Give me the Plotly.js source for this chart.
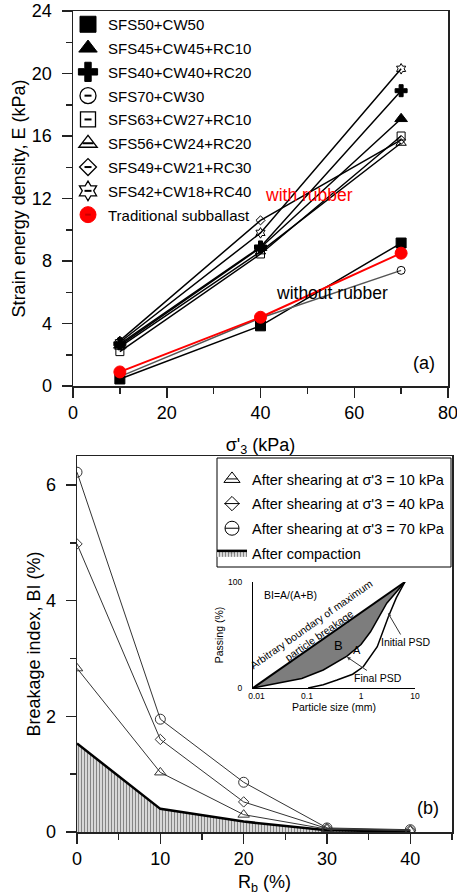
<!DOCTYPE html>
<html>
<head>
<meta charset="utf-8">
<script src="https://cdn.plot.ly/plotly-3.0.1.min.js"></script>
<style>html,body{margin:0;padding:0;background:#fff;overflow:hidden;}</style>
</head>
<body>
<div id="chart" style="width:457px;height:895px;"></div>
<script>
// ---------------- (a) strain energy density ----------------
const sigma3 = [10, 40, 70];
const E_SFS50_CW50      = [0.45, 3.85, 9.15];
const E_SFS45_CW45_RC10 = [2.6, 8.85, 17.1];
const E_SFS40_CW40_RC20 = [2.7, 8.9, 18.9];
const E_SFS70_CW30      = [0.6, 4.35, 7.4];
const E_SFS63_CW27_RC10 = [2.2, 8.45, 16.0];
const E_SFS56_CW24_RC20 = [2.5, 8.6, 15.55];
const E_SFS49_CW21_RC30 = [2.9, 10.6, 15.75];
const E_SFS42_CW18_RC40 = [2.8, 9.8, 20.3];
const E_traditional     = [0.9, 4.4, 8.5];
const namesA = ['SFS50+CW50', 'SFS45+CW45+RC10', 'SFS40+CW40+RC20', 'SFS70+CW30',
                'SFS63+CW27+RC10', 'SFS56+CW24+RC20', 'SFS49+CW21+RC30', 'SFS42+CW18+RC40',
                'Traditional subballast'];
const xTicksA = [0, 20, 40, 60, 80];
const yTicksA = [0, 4, 8, 12, 16, 20, 24];

// ---------------- (b) breakage index ----------------
const Rb = [0, 10, 20, 30, 40];
const BI_10kPa      = [2.83, 1.03, 0.30, 0.05, 0.02];
const BI_40kPa      = [4.98, 1.60, 0.52, 0.06, 0.03];
const BI_70kPa      = [6.22, 1.95, 0.86, 0.07, 0.04];
const BI_compaction = [1.53, 0.40, 0.18, 0.03, 0.01];
const namesB = ["After shearing at σ'3 = 10 kPa", "After shearing at σ'3 = 40 kPa",
                "After shearing at σ'3 = 70 kPa", 'After compaction'];
const xTicksB = [0, 10, 20, 30, 40];
const yTicksB = [0, 2, 4, 6];

// ---------------- inset (PSD sketch) ----------------
const psdBoundarySize = [0.01, 6.5];
const psdBoundaryPass = [0, 100];
const psdFinalSize    = [0.01, 0.08, 0.2, 0.55, 1.0, 1.5, 3.0, 6.5];
const psdFinalPass    = [0, 9, 17, 30, 41, 53, 80, 100];
const psdInitialSize  = [0.105, 0.2, 0.36, 0.7, 1.1, 2.0, 3.2, 4.5, 6.5];
const psdInitialPass  = [0, 3, 7.5, 13, 20, 39, 67, 85, 100];
const insetXTicks = [0.01, 0.1, 1, 10];
const insetXText  = ['\u00a0\u00a0\u00a00.01', '0.1', '1', '10'];
const insetYTicks = [0, 100];

// ---------------- helpers ----------------
const W = 457, H = 895;
const px = v => v / W, py = v => 1 - v / H;
const FONT = 'Liberation Sans, Arial, Helvetica, sans-serif';
const AX = '#222';

const seriesA = [E_SFS50_CW50, E_SFS45_CW45_RC10, E_SFS40_CW40_RC20, E_SFS70_CW30,
                 E_SFS63_CW27_RC10, E_SFS56_CW24_RC20, E_SFS49_CW21_RC30, E_SFS42_CW18_RC40,
                 E_traditional];
const styleA = [
  {sym: 'square',           size: 10, fill: '#000', lc: '#000', legSize: 16, dash: 0, line: '#000'},
  {sym: 'triangle-up',      size: 11, fill: '#000', lc: '#000', legSize: 16, dash: 0, line: '#000'},
  {sym: 'cross',            size: 10, fill: '#000', lc: '#000', legSize: 16, dash: 0, line: '#000'},
  {sym: 'circle-open',      size: 8,  fill: '#000', lc: '#000', legSize: 16, dash: 5, line: '#555'},
  {sym: 'square-open',      size: 8,  fill: '#000', lc: '#000', legSize: 15, dash: 5, line: '#000'},
  {sym: 'triangle-up-open', size: 9,  fill: '#000', lc: '#000', legSize: 16, dash: 8, line: '#000'},
  {sym: 'diamond-open',     size: 7,  fill: '#000', lc: '#000', legSize: 13, dash: 5, line: '#000'},
  {sym: 'hexagram-open',    size: 8,  fill: '#000', lc: '#000', legSize: 15, dash: 5, line: '#000'},
  {sym: 'circle',           size: 12, fill: '#ff0000', lc: '#ff0000', legSize: 16, dash: 0, line: '#ff0000'}
];

const traces = [];

// (a) data traces (red one last so it sits on top)
seriesA.forEach((ys, i) => {
  const s = styleA[i];
  traces.push({
    x: sigma3, y: ys, xaxis: 'x', yaxis: 'y', mode: 'lines+markers', showlegend: false,
    hoverinfo: 'skip',
    line: {color: s.line, width: i === 8 ? 2 : 1.5},
    marker: {symbol: s.sym, size: s.size, color: s.fill, line: {color: s.lc, width: 1}}
  });
});
// (a) legend entries (markers only)
seriesA.forEach((ys, i) => {
  const s = styleA[i];
  traces.push({
    x: [null], y: [null], xaxis: 'x', yaxis: 'y', mode: 'markers', name: namesA[i],
    legend: 'legend', legendgroup: 'a' + i, showlegend: true, hoverinfo: 'skip',
    marker: {symbol: s.sym, size: s.legSize, color: s.fill, line: {color: s.lc, width: i >= 3 && i <= 7 ? 1.3 : 1}}
  });
});
// (a) legend overlay: inner dash of the open symbols
seriesA.forEach((ys, i) => {
  const s = styleA[i];
  traces.push({
    x: [null], y: [null], xaxis: 'x', yaxis: 'y', mode: 'markers', name: namesA[i],
    legend: 'legend3', legendgroup: 'ao' + i, showlegend: true, hoverinfo: 'skip',
    marker: {symbol: 'line-ew', size: s.dash || 4, opacity: s.dash ? 1 : 0,
             color: '#000', line: {color: '#000', width: 2}}
  });
});

// (b) data
const seriesB = [BI_10kPa, BI_40kPa, BI_70kPa];
const styleB = [
  {sym: 'triangle-up-open', size: 10, legSize: 14, dash: 8},
  {sym: 'diamond-open',     size: 8,  legSize: 11, dash: 11},
  {sym: 'circle-open',      size: 10, legSize: 14, dash: 10}
];
traces.push({
  x: Rb, y: BI_compaction, xaxis: 'x2', yaxis: 'y2', mode: 'lines', name: namesB[3],
  legend: 'legend2', legendgroup: 'b3', legendrank: 10, showlegend: true, hoverinfo: 'skip',
  fill: 'tozeroy',
  fillpattern: {shape: '|', bgcolor: '#d8d8d8', fgcolor: '#858585', size: 3, solidity: 0.35},
  line: {color: '#000', width: 2.5}
});
seriesB.forEach((ys, i) => {
  const s = styleB[i];
  traces.push({
    x: Rb, y: ys, xaxis: 'x2', yaxis: 'y2', mode: 'lines+markers', showlegend: false,
    hoverinfo: 'skip',
    line: {color: '#333', width: 1},
    marker: {symbol: s.sym, size: s.size, color: '#333', line: {color: '#333', width: 1}}
  });
});
seriesB.forEach((ys, i) => {
  const s = styleB[i];
  traces.push({
    x: [null], y: [null], xaxis: 'x2', yaxis: 'y2', mode: 'markers', name: namesB[i],
    legend: 'legend2', legendgroup: 'b' + i, showlegend: true, hoverinfo: 'skip', legendrank: i + 1,
    marker: {symbol: s.sym, size: s.legSize, color: '#000', line: {color: '#000', width: 1}}
  });
});
// (b) legend overlay dashes
namesB.forEach((nm, i) => {
  const s = styleB[i];
  traces.push({
    x: [null], y: [null], xaxis: 'x2', yaxis: 'y2', mode: 'markers', name: nm,
    legend: 'legend4', legendgroup: 'bo' + i, showlegend: true, hoverinfo: 'skip', legendrank: i + 1,
    marker: {symbol: 'line-ew', size: s ? s.dash : 4, opacity: s ? 1 : 0,
             color: '#000', line: {color: '#000', width: 1}}
  });
});

// inset traces
traces.push({
  x: psdFinalSize, y: psdFinalPass, xaxis: 'x3', yaxis: 'y3', mode: 'lines', showlegend: false,
  hoverinfo: 'skip', line: {color: '#000', width: 1.5}
});
traces.push({
  x: psdBoundarySize, y: psdBoundaryPass, xaxis: 'x3', yaxis: 'y3', mode: 'lines', showlegend: false,
  hoverinfo: 'skip', fill: 'tonexty', fillcolor: '#7d7d7d', line: {color: '#000', width: 2}
});
traces.push({
  x: psdInitialSize, y: psdInitialPass, xaxis: 'x3', yaxis: 'y3', mode: 'lines', showlegend: false,
  hoverinfo: 'skip', line: {color: '#000', width: 1.5}
});

const baseAxis = {
  showline: true, linecolor: AX, linewidth: 1.5, mirror: true,
  ticks: 'outside', ticklen: 10, tickwidth: 1.5, tickcolor: AX,
  showgrid: false, zeroline: false, ticklabeloverflow: 'allow',
  tickfont: {family: FONT, size: 18, color: '#000'}
};
const minorTick = d => ({dtick: d, ticks: 'outside', ticklen: 6, tickwidth: 1.5, tickcolor: AX});
const titleFont = {family: FONT, size: 18, color: '#000'};
const legFontA = {family: FONT, size: 15, color: '#000'};
const legFontB = {family: FONT, size: 14.5, color: '#000'};
const clear = f => Object.assign({}, f, {color: 'rgba(0,0,0,0)'});

const legendA = {x: px(68), y: py(8), xanchor: 'left', yanchor: 'top', bgcolor: 'rgba(0,0,0,0)',
                 borderwidth: 0, font: legFontA, traceorder: 'grouped', tracegroupgap: 1.3};
const legendB = {x: px(212), y: py(463), xanchor: 'left', yanchor: 'top', bgcolor: 'rgba(0,0,0,0)',
                 borderwidth: 0, font: legFontB, traceorder: 'grouped', tracegroupgap: 2.8};

const ann = (text, x, y, size, color, extra) => Object.assign({
  text: text, xref: 'paper', yref: 'paper', x: px(x), y: py(y), showarrow: false,
  xanchor: 'center', yanchor: 'middle',
  font: {family: FONT, size: size, color: color || '#000'}
}, extra || {});

const layout = {
  width: W, height: H,
  margin: {l: 0, r: 0, t: 0, b: 0},
  paper_bgcolor: '#fff', plot_bgcolor: 'rgba(0,0,0,0)',
  font: {family: FONT, color: '#000'},
  showlegend: true,
  xaxis: Object.assign({}, baseAxis, {
    domain: [px(73), px(448)], range: [0, 80], tickvals: xTicksA, anchor: 'y',
    minor: minorTick(10),
    title: {text: "σ'<sub>3</sub> (kPa)", font: titleFont}
  }),
  yaxis: Object.assign({}, baseAxis, {
    domain: [py(386), py(11)], range: [0, 24], tickvals: yTicksA, anchor: 'x',
    minor: minorTick(2), ticklabelstandoff: 6,
    title: {text: 'Strain energy density, E (kPa)', font: titleFont, standoff: 1}
  }),
  xaxis2: Object.assign({}, baseAxis, {
    domain: [px(77), px(452)], range: [0, 45], tickvals: xTicksB, anchor: 'y2',
    minor: minorTick(5),
    title: {text: 'R<sub>b</sub> (%)', font: titleFont}
  }),
  yaxis2: Object.assign({}, baseAxis, {
    domain: [py(832), py(456)], range: [0, 6.5], tickvals: yTicksB, anchor: 'x2',
    minor: minorTick(1), ticklabelstandoff: 6,
    title: {text: 'Breakage index, BI (%)', font: titleFont, standoff: 0}
  }),
  xaxis3: {
    domain: [px(253), px(415)], type: 'log', range: [-2, 1], anchor: 'y3',
    showline: true, linecolor: '#000', linewidth: 1, mirror: false, showgrid: false, zeroline: false,
    ticks: '', tickvals: insetXTicks, ticktext: insetXText,
    tickfont: {family: FONT, size: 8.5, color: '#000'},
    title: {text: 'Particle size (mm)', font: {family: FONT, size: 10.5, color: '#000'}, standoff: 2}
  },
  yaxis3: {
    domain: [py(688), py(582)], range: [0, 100], anchor: 'x3',
    showline: true, linecolor: '#000', linewidth: 1, mirror: false, showgrid: false, zeroline: false,
    ticks: 'inside', ticklen: 4, tickcolor: '#000', tickvals: insetYTicks, ticklabelstandoff: 8,
    tickfont: {family: FONT, size: 8.5, color: '#000'},
    title: {text: 'Passing (%)', font: {family: FONT, size: 10.5, color: '#000'}, standoff: 2}
  },
  legend: legendA,
  legend3: Object.assign({}, legendA, {font: clear(legFontA)}),
  legend2: legendB,
  legend4: Object.assign({}, legendB, {font: clear(legFontB)}),
  shapes: [{
    type: 'rect', xref: 'paper', yref: 'paper', layer: 'above',
    x0: px(217), x1: px(451), y0: py(567), y1: py(458),
    line: {color: '#000', width: 1}, fillcolor: 'rgba(255,255,255,0)'
  }],
  annotations: [
    ann('with rubber', 309, 195, 17.5, '#ff0000'),
    ann('without rubber', 332, 293, 17.5),
    ann('(a)', 424, 363, 18),
    ann('(b)', 428, 808, 18),
    ann('BI=A/(A+B)', 290, 595, 10.5),
    ann('Arbitrary boundary of maximum<br>particle breakage', 315, 630, 10.5, '#000', {textangle: -35}),
    ann('B', 338, 645, 13),
    ann('A', 357, 650, 11),
    ann('Initial PSD', 388, 613, 10.5, '#000',
        {showarrow: true, ax: 17, ay: 29, arrowhead: 2, arrowsize: 0.7, arrowwidth: 1, arrowcolor: '#333'}),
    ann('Final PSD', 347, 657, 10.5, '#000',
        {showarrow: true, ax: 31, ay: 21, arrowhead: 2, arrowsize: 0.7, arrowwidth: 1, arrowcolor: '#333'})
  ]
};

Plotly.newPlot('chart', traces, layout, {staticPlot: true, displayModeBar: false});
</script>
</body>
</html>
